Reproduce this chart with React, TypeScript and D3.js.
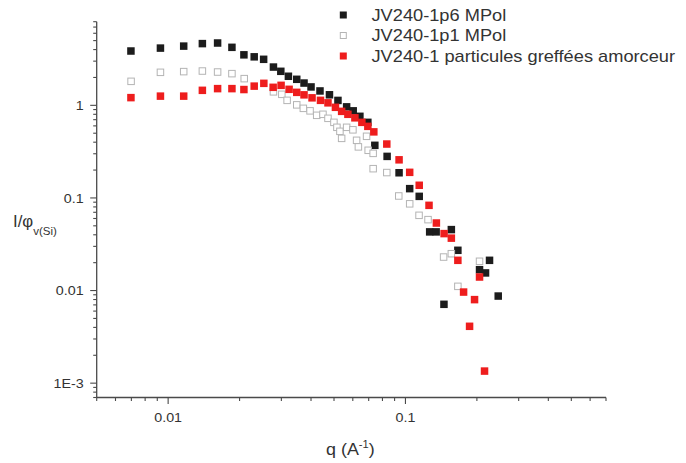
import React from 'react';
import * as d3 from 'd3';

// ---- Data (q in Å^-1, I/phi) ----
const qBlack = [0.00697, 0.00928, 0.01163, 0.01394, 0.01616, 0.01857, 0.02086, 0.02305, 0.02526, 0.02778, 0.02984, 0.03212, 0.03483, 0.03738, 0.04001, 0.04364, 0.04784, 0.05195, 0.05651, 0.06024, 0.06427, 0.06943, 0.0743, 0.0837, 0.094, 0.1042, 0.1143, 0.1265, 0.1347, 0.1453, 0.1561, 0.1663, 0.2052, 0.2175, 0.2261, 0.246];
const iBlack = [3.86, 4.15, 4.36, 4.64, 4.71, 4.23, 3.51, 3.34, 3.14, 2.59, 2.33, 2.06, 1.91, 1.74, 1.58, 1.43, 1.30, 1.13, 0.963, 0.872, 0.761, 0.655, 0.370, 0.281, 0.187, 0.126, 0.104, 0.0430, 0.0430, 0.00710, 0.0455, 0.0272, 0.0168, 0.0155, 0.0212, 0.00872];

const qOpen = [0.00698, 0.00928, 0.01163, 0.01394, 0.01616, 0.01857, 0.02092, 0.02778, 0.03013, 0.03172, 0.03483, 0.03713, 0.03963, 0.04227, 0.04492, 0.04716, 0.04996, 0.05143, 0.05295, 0.05384, 0.05651, 0.06007, 0.06225, 0.06334, 0.06857, 0.06965, 0.0731, 0.0731, 0.08345, 0.09372, 0.1042, 0.1141, 0.1245, 0.1448, 0.1561, 0.1663, 0.2052];
const iOpen = [1.816, 2.272, 2.312, 2.346, 2.289, 2.199, 1.942, 1.399, 1.315, 1.132, 1.012, 0.928, 0.872, 0.780, 0.800, 0.724, 0.655, 0.579, 0.524, 0.440, 0.579, 0.544, 0.419, 0.356, 0.463, 0.327, 0.303, 0.207, 0.188, 0.105, 0.0864, 0.0649, 0.0583, 0.0230, 0.0250, 0.0111, 0.0207];

const qRed = [0.00697, 0.00928, 0.01163, 0.01394, 0.01616, 0.01857, 0.02086, 0.02305, 0.02531, 0.0277, 0.02992, 0.03234, 0.03483, 0.03738, 0.0404, 0.04385, 0.04716, 0.0507, 0.05384, 0.05722, 0.06124, 0.06552, 0.06943, 0.07358, 0.08345, 0.094, 0.1042, 0.1143, 0.1257, 0.135, 0.1455, 0.1561, 0.1663, 0.1758, 0.1863, 0.1955, 0.2052, 0.2154];
const iRed = [1.211, 1.257, 1.257, 1.452, 1.515, 1.515, 1.481, 1.612, 1.728, 1.565, 1.644, 1.489, 1.381, 1.298, 1.205, 1.132, 1.064, 0.952, 0.861, 0.800, 0.733, 0.655, 0.593, 0.517, 0.382, 0.258, 0.189, 0.137, 0.0832, 0.0536, 0.0412, 0.0368, 0.0212, 0.00963, 0.00411, 0.00798, 0.0140, 0.00135];

const legendLabels = ['JV240-1p6 MPol', 'JV240-1p1 MPol', 'JV240-1 particules greffées amorceur'];

const xMajor = [0.01, 0.1];
const xMajorLabels = ['0.01', '0.1'];
const xMinor = [0.005, 0.006, 0.007, 0.008, 0.009, 0.02, 0.03, 0.04, 0.05, 0.06, 0.07, 0.08, 0.09, 0.2, 0.3, 0.4, 0.5, 0.6, 0.7];
const yMajor = [0.001, 0.01, 0.1, 1];
const yMajorLabels = ['1E-3', '0.01', '0.1', '1'];
const yMinor = [0.0007, 0.0008, 0.0009, 0.002, 0.003, 0.004, 0.005, 0.006, 0.007, 0.008, 0.009, 0.02, 0.03, 0.04, 0.05, 0.06, 0.07, 0.08, 0.09, 0.2, 0.3, 0.4, 0.5, 0.6, 0.7, 0.8, 0.9, 2, 3, 4, 5, 6, 7, 8];

const FONT = '"Liberation Sans", Arial, Helvetica, sans-serif';
const AXIS = '#4a4a4a';
const TXT = '#333333';
const RED = '#ee1d1d';
const BLK = '#1c1c1c';
const GREY = '#b4b4b4';

function SText(props: { x: number; y: number; sx?: number; size: number; anchor?: string; children: React.ReactNode; fill?: string }) {
  const { x, y, sx = 1, size, anchor = 'start', children, fill = TXT } = props;
  return (
    <text transform={`translate(${x},${y}) scale(${sx},1)`} fontSize={size} textAnchor={anchor as any} fontFamily={FONT} fill={fill}>
      {children}
    </text>
  );
}

export default function App() {
  const W = 686, H = 463;
  const x = d3.scaleLog().domain([0.005, 0.7]).range([96.7, 606]);
  const y = d3.scaleLog().domain([7e-4, 8]).range([397.5, 21.7]);
  const x0 = x.range()[0];
  const y0 = y.range()[0];
  const s = 7.5;

  const black = qBlack.map((q, i) => [q, iBlack[i]]);
  const open = qOpen.map((q, i) => [q, iOpen[i]]);
  const red = qRed.map((q, i) => [q, iRed[i]]);

  const legendY = [15, 35.5, 56];
  const legendX = 343.3;

  return (
    <svg width={W} height={H} style={{ position: 'absolute', left: 0, top: 0, background: '#fff' }}>
      <rect x={0} y={0} width={W} height={H} fill="#fff" />
      {/* axes */}
      <line x1={x0} x2={x0} y1={y.range()[1]} y2={y0} stroke={AXIS} strokeWidth={1.3} />
      <line x1={x0} x2={x.range()[1]} y1={y0} y2={y0} stroke={AXIS} strokeWidth={1.3} />
      {xMinor.map((t) => (
        <line key={'xm' + t} x1={x(t)} x2={x(t)} y1={y0} y2={y0 + 3.5} stroke={AXIS} strokeWidth={1.1} />
      ))}
      {xMajor.map((t, i) => (
        <g key={'xM' + t}>
          <line x1={x(t)} x2={x(t)} y1={y0} y2={y0 + 6.5} stroke={AXIS} strokeWidth={1.1} />
          <SText x={x(t)} y={y0 + 24} size={13} sx={1.1} anchor="middle">{xMajorLabels[i]}</SText>
        </g>
      ))}
      {yMinor.map((t) => (
        <line key={'ym' + t} x1={x0 - 3.5} x2={x0} y1={y(t)} y2={y(t)} stroke={AXIS} strokeWidth={1.1} />
      ))}
      {yMajor.map((t, i) => (
        <g key={'yM' + t}>
          <line x1={x0 - 6.5} x2={x0} y1={y(t)} y2={y(t)} stroke={AXIS} strokeWidth={1.1} />
          <SText x={x0 - 13} y={y(t) + 4.7} size={13} sx={1.1} anchor="end">{yMajorLabels[i]}</SText>
        </g>
      ))}
      {/* axis titles */}
      <text transform="translate(326,455) scale(1.12,1)" fontSize={16} fontFamily={FONT} fill={TXT}>
        q (A<tspan fontSize={10} dy={-7}>-1</tspan><tspan dy={7}>)</tspan>
      </text>
      <text transform="translate(13,226.5) scale(1.05,1)" fontSize={16} fontFamily={FONT} fill={TXT}>
        I/φ<tspan fontSize={11} dy={8}>v(Si)</tspan>
      </text>
      {/* data */}
      {black.map((d, i) => (
        <rect key={'b' + i} x={x(d[0]) - s / 2} y={y(d[1]) - s / 2} width={s} height={s} fill={BLK} />
      ))}
      {open.map((d, i) => (
        <rect key={'o' + i} x={x(d[0]) - s / 2 + 0.5} y={y(d[1]) - s / 2 + 0.5} width={s - 1} height={s - 1} fill="#fff" stroke={GREY} strokeWidth={1} />
      ))}
      {red.map((d, i) => (
        <rect key={'r' + i} x={x(d[0]) - s / 2} y={y(d[1]) - s / 2} width={s} height={s} fill={RED} />
      ))}
      {/* legend */}
      <rect x={legendX - 3.5} y={legendY[0] - 3.5} width={7} height={7} fill={BLK} />
      <rect x={legendX - 3} y={legendY[1] - 3} width={6} height={6} fill="#fff" stroke={GREY} strokeWidth={1} />
      <rect x={legendX - 3.5} y={legendY[2] - 3.5} width={7} height={7} fill={RED} />
      {legendLabels.map((l, i) => (
        <SText key={l} x={371.5} y={legendY[i] + 5.8} size={16} sx={1.14}>{l}</SText>
      ))}
    </svg>
  );
}
